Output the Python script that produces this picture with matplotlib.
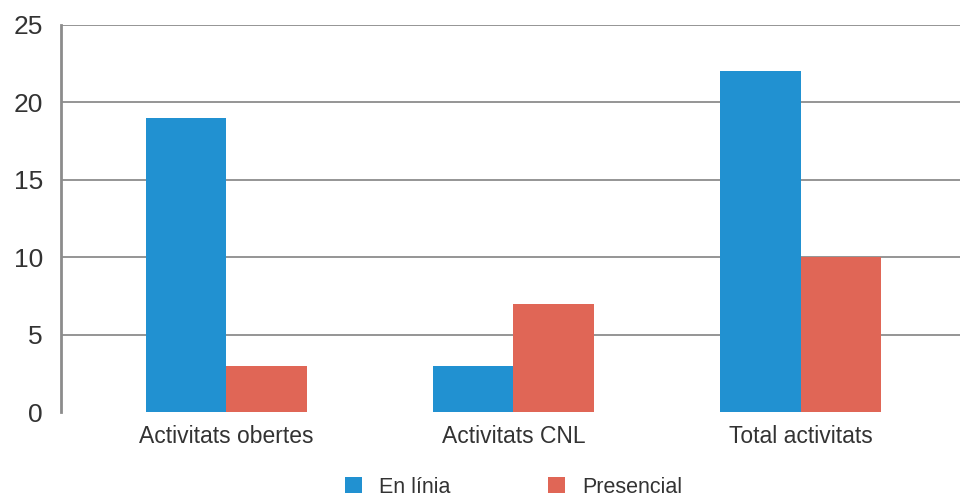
import matplotlib.pyplot as plt
import numpy as np

categories = ['Activitats obertes', 'Activitats CNL', 'Total activitats']
en_linia = [19, 3, 22]
presencial = [3, 7, 10]
yticks = [0, 5, 10, 15, 20, 25]

plt.rcParams['font.family'] = ['Liberation Sans', 'DejaVu Sans']

fig = plt.figure(figsize=(9.6, 4.97), dpi=100)
ax = fig.add_axes([0.0635, 0.171, 0.9365, 0.779])

x = np.arange(len(categories))
width = 0.28
ax.bar(x - width / 2, en_linia, width, color='#2191D1', label='En línia', zorder=3)
ax.bar(x + width / 2, presencial, width, color='#E06656', label='Presencial', zorder=3)

ax.set_xlim(-0.575, 2.555)
ax.set_ylim(0, 25)
ax.set_yticks(yticks)
ax.set_xticks(x)
ax.set_xticklabels(categories, fontsize=16.5, color='#333333')
ax.tick_params(axis='y', labelsize=19, colors='#333333', length=0, pad=13)
ax.tick_params(axis='x', length=0, pad=9)
ax.yaxis.grid(True, color='#8c8c8c', linewidth=1.3, zorder=0)
ax.get_ygridlines()[0].set_visible(False)
for s in ['top', 'right', 'bottom']:
    ax.spines[s].set_visible(False)
ax.spines['left'].set_color('#8c8c8c')
ax.spines['left'].set_linewidth(2)

fig.legend(loc='center', bbox_to_anchor=(0.535, 0.02), ncol=2, frameon=False,
           fontsize=15.5, handlelength=0.8, handleheight=0.8, columnspacing=4.5,
           handletextpad=0.8, labelcolor='#333333')

plt.savefig('out.png', dpi=100)
